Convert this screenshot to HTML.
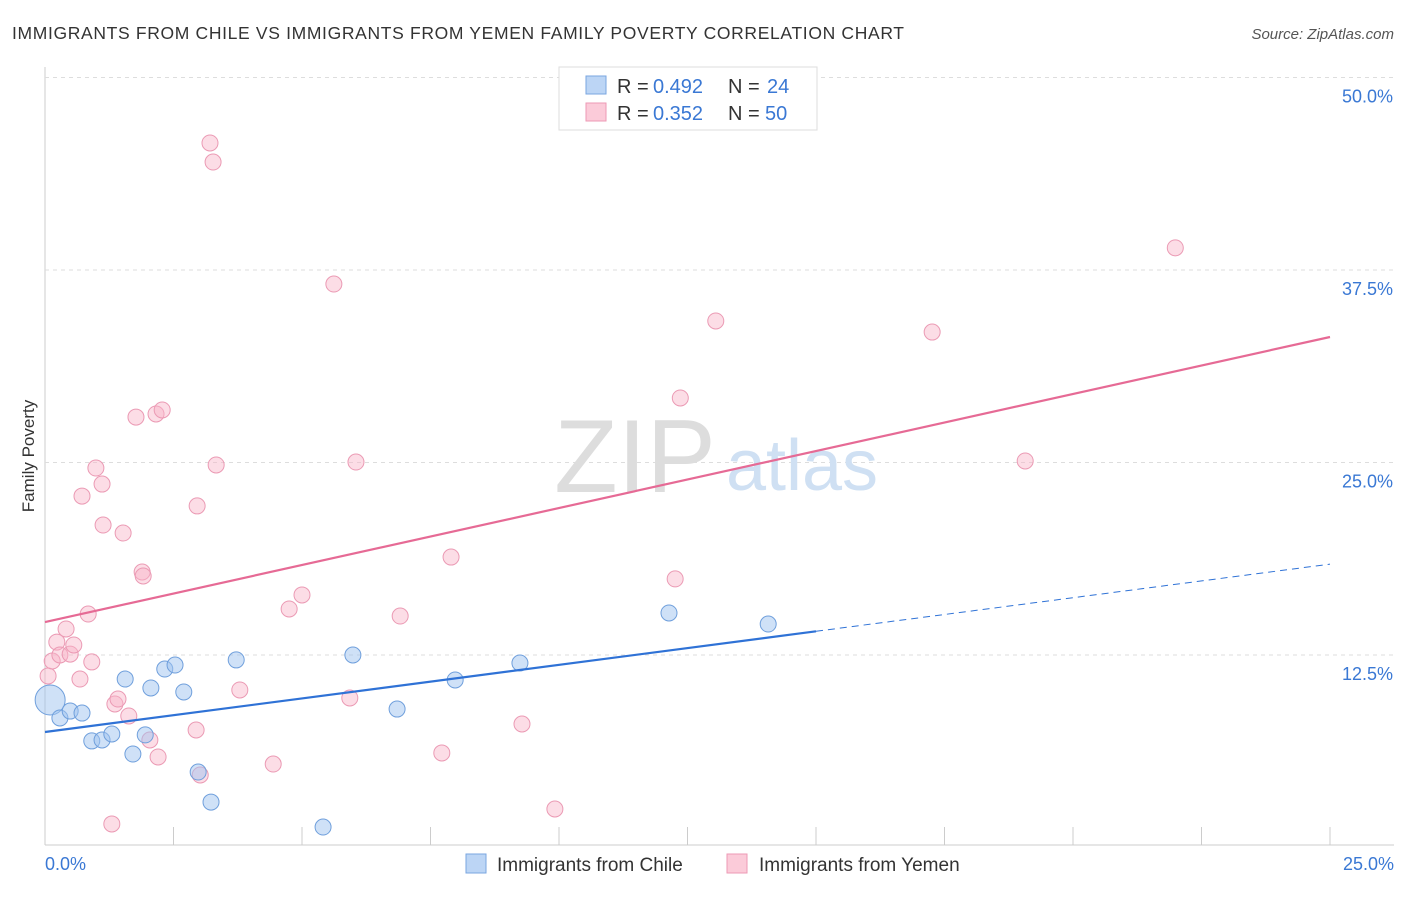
<!DOCTYPE html>
<html><head><meta charset="utf-8"><style>
body{margin:0;background:#fff;font-family:"Liberation Sans",sans-serif;}
svg text{font-family:"Liberation Sans",sans-serif;}
</style></head><body>
<svg id="chart" width="1406" height="892">
<text x="12" y="39" font-size="17.5" fill="#333" textLength="892" lengthAdjust="spacing">IMMIGRANTS FROM CHILE VS IMMIGRANTS FROM YEMEN FAMILY POVERTY CORRELATION CHART</text>
<text x="1394" y="39" font-size="15" fill="#555" font-style="italic" text-anchor="end">Source: ZipAtlas.com</text>
<text x="0" y="0" transform="translate(34,456) rotate(-90)" font-size="17" fill="#333" text-anchor="middle">Family Poverty</text>
<g id="grid"></g>
<g id="watermark">
<text x="635" y="492" font-size="104" fill="#ddd" font-family="Liberation Serif" text-anchor="middle">ZIP</text>
<text x="802" y="490" font-size="72" fill="#cfe0f3" text-anchor="middle">atlas</text>
</g>
<g id="marks"></g>
<g>
<rect x="559" y="67" width="258" height="63" fill="#fff" stroke="#ddd"/>
<rect x="586" y="76" width="20" height="18" fill="#bcd5f5" stroke="#7aa6e0"/>
<rect x="586" y="103" width="20" height="18" fill="#fbcbd9" stroke="#ee9ab5"/>
<text x="617" y="93" font-size="20" fill="#333">R = </text>
<text x="653" y="93" font-size="20" fill="#3a78d4">0.492</text>
<text x="728" y="93" font-size="20" fill="#333">N = </text>
<text x="767" y="93" font-size="20" fill="#3a78d4">24</text>
<text x="617" y="120" font-size="20" fill="#333">R = </text>
<text x="653" y="120" font-size="20" fill="#3a78d4">0.352</text>
<text x="728" y="120" font-size="20" fill="#333">N = </text>
<text x="765" y="120" font-size="20" fill="#3a78d4">50</text>
</g>
<g>
<rect x="466" y="854" width="20" height="19" fill="#bcd5f5" stroke="#7aa6e0"/>
<text x="497" y="871" font-size="19" fill="#333">Immigrants from Chile</text>
<rect x="727" y="854" width="20" height="19" fill="#fbcbd9" stroke="#ee9ab5"/>
<text x="759" y="871" font-size="19" fill="#333">Immigrants from Yemen</text>
</g>
</svg>
<script>
const xTickLabels=["0.0%","25.0%"];
const yTicks=[12.5,25,37.5,50];
const yTickLabels=["12.5%","25.0%","37.5%","50.0%"];
const chileX=[0.10,0.29,0.49,0.72,0.91,1.11,1.30,1.56,1.71,1.95,2.06,2.33,2.53,2.70,2.98,3.23,3.72,5.41,5.99,6.85,7.98,9.24,12.14,14.07];
const chileY=[9.58,8.41,8.86,8.73,6.92,6.98,7.37,10.94,6.07,7.31,10.36,11.59,11.85,10.10,4.90,2.95,12.18,1.33,12.50,8.99,10.88,11.98,15.23,14.51];
const yemenX=[0.06,0.14,0.23,0.29,0.41,0.49,0.56,0.68,0.72,0.84,0.91,0.99,1.11,1.13,1.30,1.36,1.42,1.52,1.63,1.77,1.89,1.91,2.04,2.16,2.20,2.28,2.94,2.96,3.02,3.21,3.27,3.33,3.79,4.44,4.75,5.00,5.62,5.93,6.05,6.91,7.72,7.90,9.28,9.92,12.26,12.36,13.05,17.26,19.07,21.99];
const yemenY=[11.14,12.11,13.34,12.50,14.19,12.56,13.15,10.94,22.82,15.16,12.05,24.64,23.60,20.94,1.53,9.32,9.64,20.42,8.54,27.95,17.89,17.63,6.98,28.15,5.88,28.41,7.63,22.18,4.71,45.75,44.51,24.84,10.23,5.42,15.49,16.40,36.59,9.71,25.03,15.03,6.14,18.86,8.02,2.50,17.44,29.19,34.19,33.47,25.10,38.94];
const chileTrend=[7.5,18.4];
const chileSolidEnd=15.0;
const yemenTrend=[14.64,33.15];
const X=v=>45+v/25*1285;
const Y=v=>847.5-v*15.4;
const NS="http://www.w3.org/2000/svg";
const grid=document.getElementById('grid'),marks=document.getElementById('marks');
function mk(p,tag,a){const e=document.createElementNS(NS,tag);for(const k in a)e.setAttribute(k,a[k]);p.appendChild(e);return e;}
let ax=mk(grid,'line',{x1:45,y1:67,x2:45,y2:845,stroke:'#ccc'});


let bx=mk(grid,'line',{x1:45,y1:845,x2:1394,y2:845,stroke:'#ccc'});


yTicks.forEach((t,i)=>{
 const g=mk(grid,'line',{x1:45,x2:1394,y1:Y(t),y2:Y(t),stroke:'#ddd','stroke-dasharray':'4,4'});
 
 
 const tx=mk(grid,'text',{x:1393,y:Y(t)+25,'font-size':18,fill:'#3a78d4','text-anchor':'end'});
 tx.textContent=yTickLabels[i];
 
 
});
for(let i=0;i<=10;i++){
 const t=mk(grid,'line',{x1:X(i*2.5),x2:X(i*2.5),y1:827,y2:845,stroke:'#ccc'});
 
 
}
[[0,'start',45],[25,'end',1394]].forEach((d,i)=>{
 const tx=mk(grid,'text',{x:d[2],y:870,'font-size':18,fill:'#3a78d4','text-anchor':d[1]});
 tx.textContent=xTickLabels[i];
 
 
});
yemenX.forEach((x,i)=>{
 const c=mk(marks,'circle',{cx:X(x),cy:Y(yemenY[i]),r:8,fill:'rgba(248,180,200,0.45)',stroke:'#eb9ab4','stroke-width':1});
 
 
});
chileX.forEach((x,i)=>{
 const c=mk(marks,'circle',{cx:X(x),cy:Y(chileY[i]),r:i===0?15:8,fill:'rgba(160,196,240,0.5)',stroke:'#6f9fdc','stroke-width':1});
 
 
});
const cy=x=>chileTrend[0]+(chileTrend[1]-chileTrend[0])*x/25;
let l1=mk(marks,'line',{x1:X(0),y1:Y(cy(0)),x2:X(chileSolidEnd),y2:Y(cy(chileSolidEnd)),stroke:'#2f72d6','stroke-width':2.2});


let l2=mk(marks,'line',{x1:X(chileSolidEnd),y1:Y(cy(chileSolidEnd)),x2:X(25),y2:Y(cy(25)),stroke:'#2f72d6','stroke-width':1,'stroke-dasharray':'7,5'});


let l3=mk(marks,'line',{x1:X(0),y1:Y(yemenTrend[0]),x2:X(25),y2:Y(yemenTrend[1]),stroke:'#e66a95','stroke-width':2.2});


</script>
</body></html>
